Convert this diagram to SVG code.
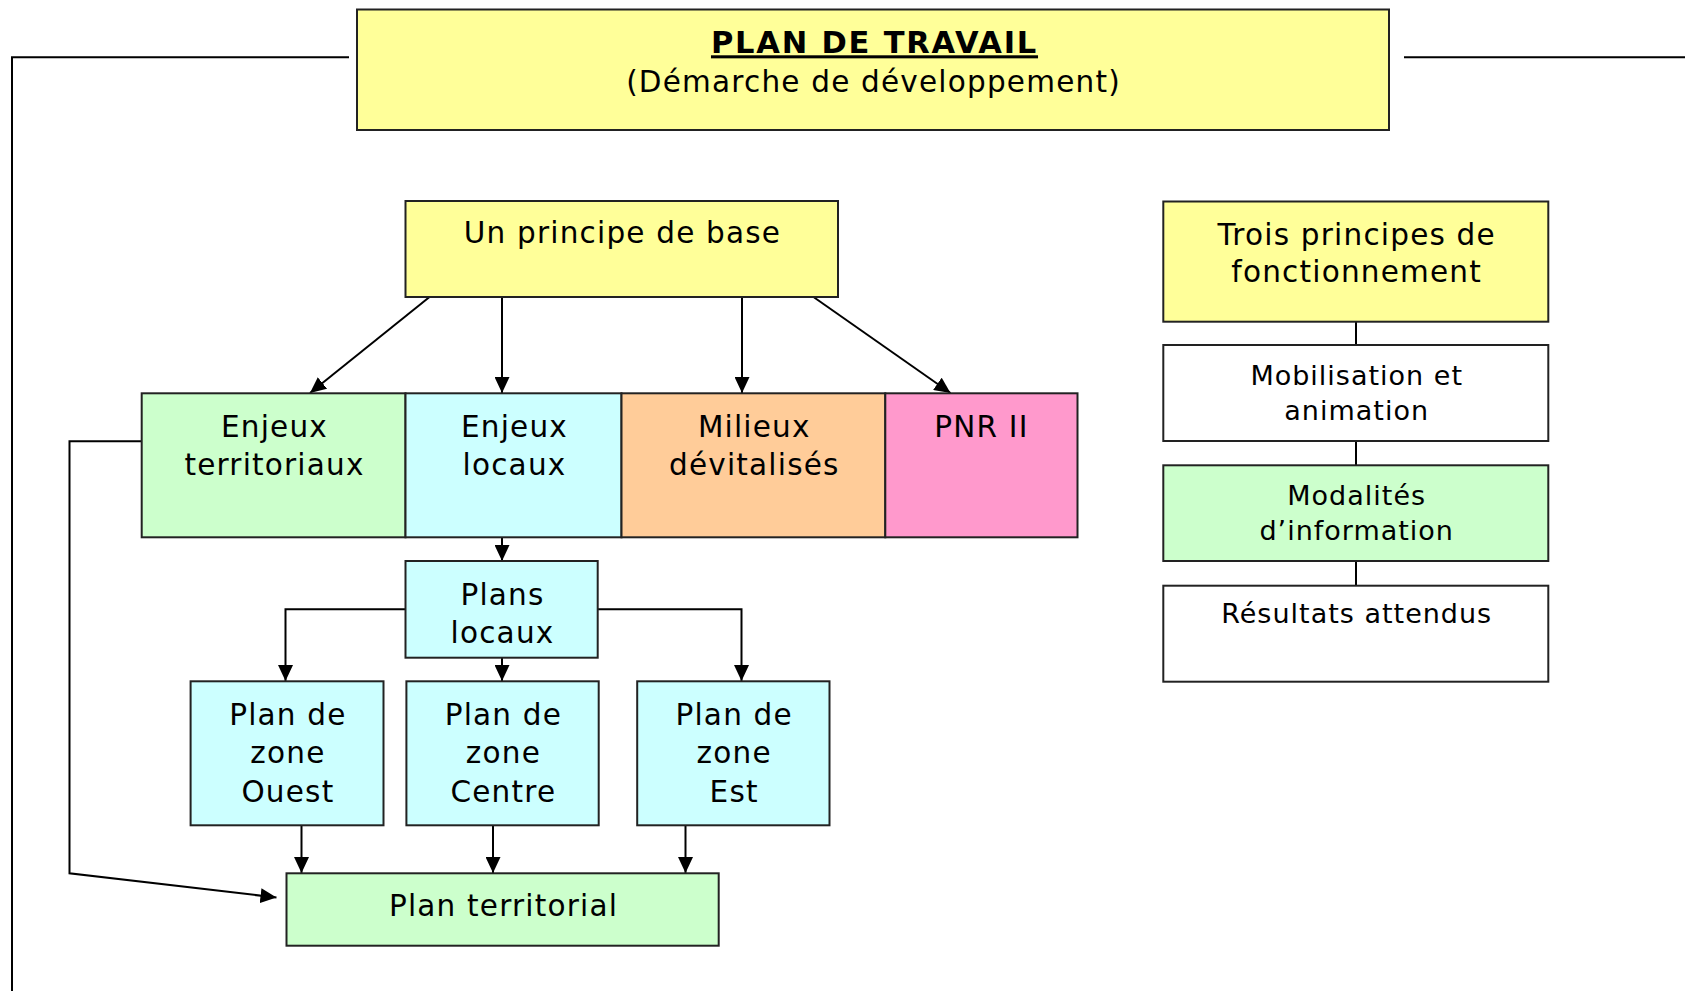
<svg xmlns="http://www.w3.org/2000/svg" width="1685" height="991" viewBox="0 0 1685 991">
<defs>
<style>
.box{stroke:#222;stroke-width:2}
.y{fill:#FFFF99}.g{fill:#CCFFCC}.c{fill:#CCFFFF}.o{fill:#FFCC99}.p{fill:#FF99CC}.w{fill:#FFFFFF}
text{font-family:"DejaVu Sans","Verdana",sans-serif;fill:#000;text-anchor:middle}
.big{font-size:29.5px;letter-spacing:1.2px}
.sm{font-size:27px;letter-spacing:1px}
.ttl{font-size:30.5px;font-weight:bold;letter-spacing:1.8px;text-decoration:underline}
.ln{fill:none;stroke:#000;stroke-width:2}
</style>
<marker id="ah" markerUnits="userSpaceOnUse" markerWidth="16" markerHeight="15" refX="16" refY="7.5" orient="auto" viewBox="0 0 16 15">
<path d="M0,0 L16,7.5 L0,15 z" fill="#000"/>
</marker>
</defs>
<rect width="1685" height="991" fill="#fff"/>
<g id="connectors">
<path class="ln" d="M349,57.3 L12,57.3 L12,991"/>
<path class="ln" d="M1404,57.3 L1685,57.3"/>
<path class="ln" d="M429.5,297 L310,393" marker-end="url(#ah)"/>
<path class="ln" d="M502,297 L502,393" marker-end="url(#ah)"/>
<path class="ln" d="M742,297 L742,393" marker-end="url(#ah)"/>
<path class="ln" d="M813.5,297 L950.5,393" marker-end="url(#ah)"/>
<path class="ln" d="M502,537 L502,561" marker-end="url(#ah)"/>
<path class="ln" d="M405.5,609.3 L285.5,609.3 L285.5,681" marker-end="url(#ah)"/>
<path class="ln" d="M502,657.7 L502,681" marker-end="url(#ah)"/>
<path class="ln" d="M597.7,609.3 L741.5,609.3 L741.5,681" marker-end="url(#ah)"/>
<path class="ln" d="M301.5,825 L301.5,873" marker-end="url(#ah)"/>
<path class="ln" d="M493,825 L493,873" marker-end="url(#ah)"/>
<path class="ln" d="M685.5,825 L685.5,873" marker-end="url(#ah)"/>
<path class="ln" d="M141.7,441.3 L69.5,441.3 L69.5,873.3 L276.5,897.5" marker-end="url(#ah)"/>
<path class="ln" d="M1356,321.7 L1356,345 M1356,441 L1356,465.3 M1356,561 L1356,585.7"/>
</g>
<g id="title">
<rect class="box y" x="357" y="9.5" width="1032" height="120.5"/>
<text class="ttl" x="874.5" y="53.3">PLAN DE TRAVAIL</text>
<text class="big" x="873.5" y="91.5">(Démarche de développement)</text>
</g>
<g id="principe">
<rect class="box y" x="405.5" y="201" width="432.5" height="96"/>
<text class="big" x="622.5" y="243.3">Un principe de base</text>
</g>
<g id="enjeux-territoriaux">
<rect class="box g" x="141.7" y="393.3" width="263.8" height="144"/>
<text class="big" x="274.5" y="436.7">Enjeux</text>
<text class="big" x="274.5" y="475">territoriaux</text>
</g>
<g id="enjeux-locaux">
<rect class="box c" x="405.5" y="393.3" width="216" height="144"/>
<text class="big" x="514.5" y="436.7">Enjeux</text>
<text class="big" x="514.5" y="475">locaux</text>
</g>
<g id="milieux">
<rect class="box o" x="621.5" y="393.3" width="263.8" height="144"/>
<text class="big" x="754.3" y="436.7">Milieux</text>
<text class="big" x="754.3" y="475">dévitalisés</text>
</g>
<g id="pnr">
<rect class="box p" x="885.3" y="393.3" width="192.2" height="144"/>
<text class="big" x="981.4" y="436.7">PNR II</text>
</g>
<g id="plans-locaux">
<rect class="box c" x="405.5" y="561" width="192.2" height="96.7"/>
<text class="big" x="502.5" y="605">Plans</text>
<text class="big" x="502.5" y="643.3">locaux</text>
</g>
<g id="zone-ouest">
<rect class="box c" x="190.6" y="681.3" width="192.9" height="144"/>
<text class="big" x="287.9" y="725">Plan de</text>
<text class="big" x="287.9" y="763.3">zone</text>
<text class="big" x="287.9" y="801.7">Ouest</text>
</g>
<g id="zone-centre">
<rect class="box c" x="406.4" y="681.3" width="192.3" height="144"/>
<text class="big" x="503.4" y="725">Plan de</text>
<text class="big" x="503.4" y="763.3">zone</text>
<text class="big" x="503.4" y="801.7">Centre</text>
</g>
<g id="zone-est">
<rect class="box c" x="637.2" y="681.3" width="192.3" height="144"/>
<text class="big" x="734.2" y="725">Plan de</text>
<text class="big" x="734.2" y="763.3">zone</text>
<text class="big" x="734.2" y="801.7">Est</text>
</g>
<g id="plan-territorial">
<rect class="box g" x="286.5" y="873.3" width="432.2" height="72.4"/>
<text class="big" x="503.5" y="915.7">Plan territorial</text>
</g>
<g id="trois-principes">
<rect class="box y" x="1163.3" y="201.5" width="385" height="120.2"/>
<text class="big" x="1356.7" y="245">Trois principes de</text>
<text class="big" x="1356.7" y="281.7">fonctionnement</text>
</g>
<g id="mobilisation">
<rect class="box w" x="1163.3" y="345" width="385" height="96"/>
<text class="sm" x="1356.7" y="385">Mobilisation et</text>
<text class="sm" x="1356.7" y="420">animation</text>
</g>
<g id="modalites">
<rect class="box g" x="1163.3" y="465.3" width="385" height="95.7"/>
<text class="sm" x="1356.7" y="505">Modalités</text>
<text class="sm" x="1356.7" y="540">d’information</text>
</g>
<g id="resultats">
<rect class="box w" x="1163.3" y="585.7" width="385" height="96"/>
<text class="sm" x="1356.7" y="623.3">Résultats attendus</text>
</g>
</svg>
